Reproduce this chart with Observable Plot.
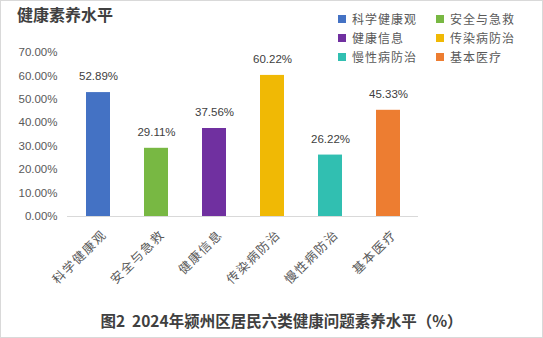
<!DOCTYPE html>
<html>
<head>
<meta charset="utf-8">
<script src="https://cdn.jsdelivr.net/npm/d3@7"></script>
<script src="https://cdn.jsdelivr.net/npm/@observablehq/plot@0.6"></script>
<style>
  html, body { margin: 0; padding: 0; background: #fff; }
  #wrap { position: relative; width: 543px; height: 338px; overflow: hidden; background: #fff;
          font-family: "Liberation Sans", "Noto Sans CJK SC", sans-serif; }
  #frame { position: absolute; left: 0; top: 0; width: 543px; height: 338px; box-sizing: border-box;
           border: 1px solid #d9d9d9; pointer-events: none; }
  #chart { position: absolute; left: 0; top: 0; }
  #chart g[aria-label="x-axis tick label"] text { letter-spacing: 1.5px; }
  #title { position: absolute; left: 17px; top: 4px; font-size: 16px; font-weight: bold; color: #404040;
           font-family: "Noto Sans CJK SC", sans-serif; line-height: 20px; }
  #caption { position: absolute; left: 0; width: 563px; top: 309px; text-align: center; font-size: 15.5px;
             font-weight: bold; color: #404040; font-family: "Noto Sans CJK SC", sans-serif; line-height: 22px; }
  .lg { position: absolute; font-size: 12px; color: #595959; letter-spacing: 1px; line-height: 16px;
        font-family: "Noto Sans CJK SC", sans-serif; white-space: nowrap; }
  .lg i { position: absolute; left: -14px; top: 4px; width: 8px; height: 8px; }
</style>
</head>
<body>
<div id="wrap">
  <div id="chart"></div>
  <div id="title">健康素养水平</div>
  <div id="legend"></div>
  <div id="caption">图2&nbsp;&nbsp;2024年颍州区居民六类健康问题素养水平（%）</div>
  <div id="frame"></div>
</div>
<script>
const categories = ["科学健康观", "安全与急救", "健康信息", "传染病防治", "慢性病防治", "基本医疗"];
const values = [52.89, 29.11, 37.56, 60.22, 26.22, 45.33];
const colors = ["#4472C4", "#78B843", "#7030A0", "#F0B905", "#31BFB1", "#ED7D31"];
const yTicks = [0, 10, 20, 30, 40, 50, 60, 70];

const data = categories.map((c, i) => ({category: c, value: values[i], color: colors[i]}));
const fmt = d => d.toFixed(2) + "%";

const chart = Plot.plot({
  width: 543,
  height: 338,
  marginLeft: 67,
  marginRight: 125,
  marginTop: 52,
  marginBottom: 122,
  style: {fontFamily: "'Liberation Sans', 'Noto Sans CJK SC', sans-serif", background: "transparent"},
  x: {domain: categories, paddingInner: 0.59, paddingOuter: 0.295, label: null},
  y: {domain: [0, 70], ticks: yTicks, label: null},
  marks: [
    Plot.barY(data, {x: "category", y: "value", fill: "color"}),
    Plot.ruleY([0], {stroke: "#d9d9d9", strokeWidth: 1}),
    Plot.text(data, {x: "category", y: "value", text: d => fmt(d.value), dy: -16, fill: "#404040", fontSize: 11.5}),
    Plot.axisY({ticks: yTicks, tickFormat: fmt, tickSize: 0, tickPadding: 10, fill: "#595959", fontSize: 11.5, label: null}),
    Plot.axisX({tickRotate: -45, tickSize: 0, tickPadding: 8, dx: 6, dy: 8, fill: "#595959", fontSize: 12.5, label: null,
                fontFamily: "'Noto Sans CJK SC', sans-serif"})
  ]
});
document.getElementById("chart").appendChild(chart);

const legend = document.getElementById("legend");
const legendX = [352, 450];
const legendY = [11, 30, 49];
categories.forEach((c, i) => {
  const el = document.createElement("div");
  el.className = "lg";
  el.style.left = legendX[i % 2] + "px";
  el.style.top = legendY[Math.floor(i / 2)] + "px";
  el.innerHTML = `<i style="background:${colors[i]}"></i>${c}`;
  legend.appendChild(el);
});
</script>
</body>
</html>
